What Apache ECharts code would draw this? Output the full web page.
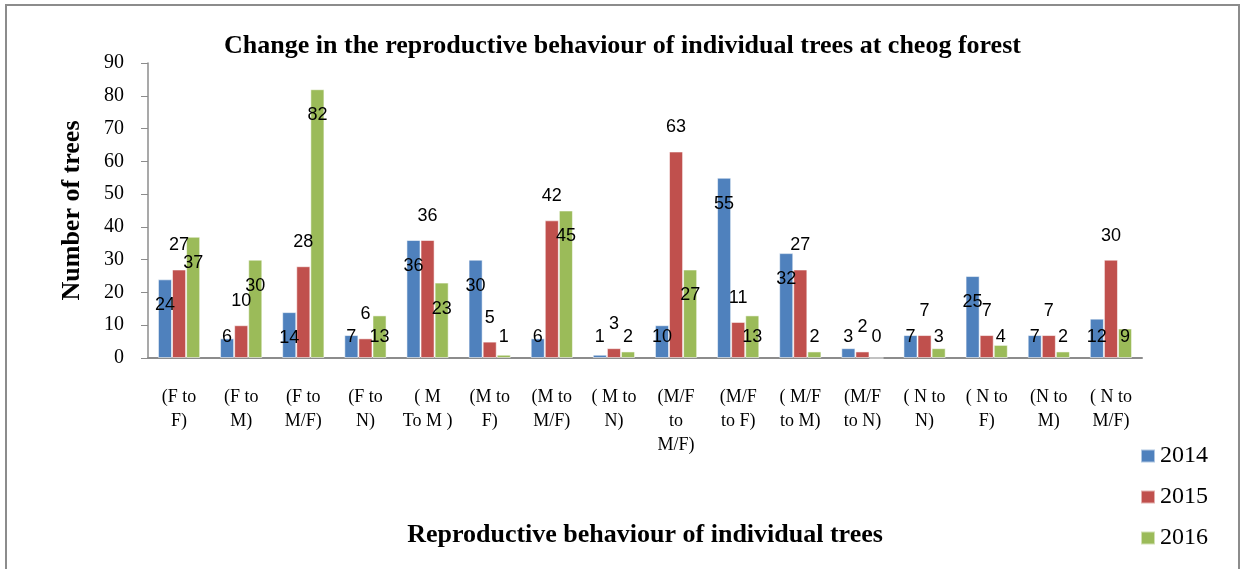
<!DOCTYPE html>
<html>
<head>
<meta charset="utf-8">
<script src="https://cdn.jsdelivr.net/npm/echarts@6/dist/echarts.min.js"></script>
<style>
  html, body { margin: 0; padding: 0; background: #fff; }
  #main { width: 1245px; height: 569px; }
</style>
</head>
<body>
<div id="main"></div>
<script>
// categories (transitions of reproductive behaviour)
var categories = [
    '(F to\nF)', '(F to\nM)', '(F to\nM/F)', '(F to\nN)', '( M\nTo M )',
    '(M to\nF)', '(M to\nM/F)', '( M to\nN)', '(M/F\nto\nM/F)', '(M/F\nto F)',
    '( M/F\nto M)', '(M/F\nto N)', '( N to\nN)', '( N to\nF)', '(N to\nM)', '( N to\nM/F)'
]
var years = ['2014', '2015', '2016']
var values2014 = [24, 6, 14, 7, 36, 30, 6, 1, 10, 55, 32, 3, 7, 25, 7, 12]
var values2015 = [27, 10, 28, 6, 36, 5, 42, 3, 63, 11, 27, 2, 7, 7, 7, 30]
var values2016 = [37, 30, 82, 13, 23, 1, 45, 2, 27, 13, 2, 0, 3, 4, 2, 9]
var colors = ['#4F81BD', '#C0504D', '#9BBB59']

var serif = '"Liberation Serif", "Times New Roman", serif'
var sans = '"Liberation Sans", Arial, sans-serif'

// labels like Excel: inside near top, but never lower than a fixed line above the axis
function insideItems(arr) {
    return arr.map(function (v) {
        if (v >= 14) {
            return { value: v, label: { position: 'insideTop', offset: [0, 12] } }
        }
        return { value: v, label: { position: 'insideBottom', offset: [0, -7] } }
    })
}

var myChart = echarts.init(document.getElementById('main'))

function barSeries(name, data, color, label) {
    return {
        name: name,
        type: 'bar',
        data: data,
        barGap: '0%',
        barCategoryGap: '32%',
        itemStyle: { color: color, borderColor: 'rgba(255,255,255,0.55)', borderWidth: 1 },
        label: label
    }
}

var labelBase = { show: true, color: '#000', fontFamily: sans, fontSize: 18 }

var option = {
    animation: false,
    title: {
        text: 'Change in the reproductive behaviour of individual trees at cheog forest',
        left: 'center',
        top: 28,
        textStyle: { fontFamily: serif, fontSize: 26, fontWeight: 'bold', color: '#000' }
    },
    legend: {
        data: years,
        orient: 'vertical',
        left: 1135,
        top: 439,
        itemWidth: 14,
        itemHeight: 13,
        itemGap: 17,
        icon: 'rect',
        textStyle: { fontFamily: serif, fontSize: 24, color: '#000' }
    },
    grid: { left: 148, right: 103, top: 63, bottom: 211 },
    xAxis: {
        type: 'category',
        data: categories,
        name: 'Reproductive behaviour of individual trees',
        nameLocation: 'middle',
        nameGap: 164,
        nameTextStyle: { fontFamily: serif, fontSize: 26, fontWeight: 'bold', color: '#000' },
        axisLine: { lineStyle: { color: '#8c8c8c', width: 2 } },
        axisTick: { show: false },
        axisLabel: {
            interval: 0,
            margin: 27,
            fontFamily: serif,
            fontSize: 18,
            lineHeight: 24,
            color: '#000'
        }
    },
    yAxis: {
        type: 'value',
        min: 0,
        max: 90,
        interval: 10,
        name: 'Number of trees',
        nameLocation: 'middle',
        nameGap: 63,
        nameTextStyle: { fontFamily: serif, fontSize: 26, fontWeight: 'bold', color: '#000' },
        axisLine: { show: true, lineStyle: { color: '#8c8c8c', width: 1.5 } },
        axisTick: { show: true, length: 7, lineStyle: { color: '#8c8c8c' } },
        splitLine: { show: false },
        axisLabel: { margin: 24, fontFamily: serif, fontSize: 20, color: '#000' }
    },
    graphic: [{
        type: 'rect',
        shape: { x: 6, y: 5, width: 1233, height: 590 },
        style: { fill: 'none', stroke: '#8c8c8c', lineWidth: 2 },
        silent: true
    }],
    series: [
        barSeries(years[0], insideItems(values2014), colors[0], labelBase),
        barSeries(years[1], values2015, colors[1],
            Object.assign({}, labelBase, { position: 'top', distance: 15 })),
        barSeries(years[2], insideItems(values2016), colors[2], labelBase)
    ]
}

myChart.setOption(option)
window.addEventListener('resize', function () {
    myChart.resize()
})
</script>
</body>
</html>
